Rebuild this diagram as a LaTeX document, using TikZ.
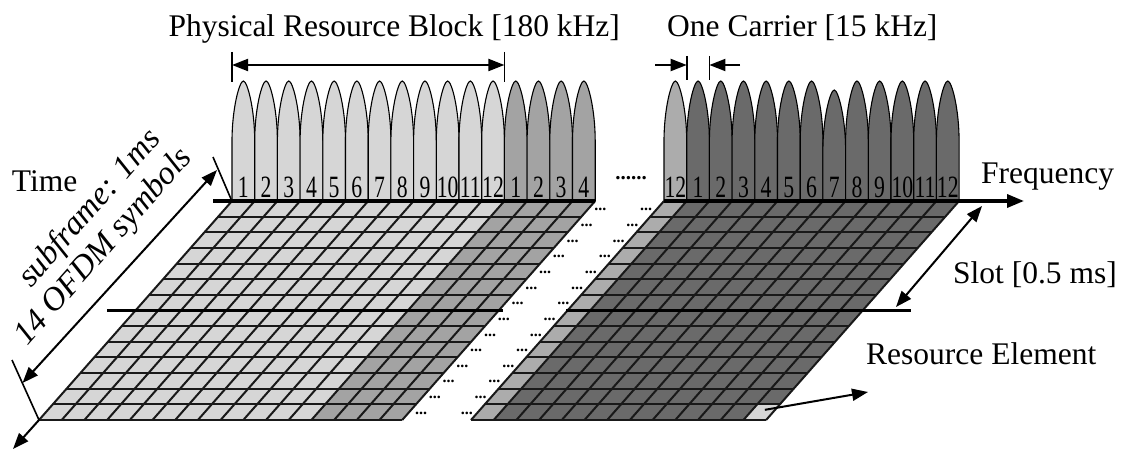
\documentclass[tikz,border=0pt]{standalone}
\usepackage{fontspec}
\setmainfont{Liberation Serif}
\usepackage{graphicx}
\usetikzlibrary{arrows.meta,positioning,calc}
\definecolor{cellgray}{RGB}{214,214,214}
\definecolor{blockgray}{RGB}{163,163,163}
\definecolor{edgegray}{RGB}{172,172,172}
\definecolor{carriergray}{RGB}{106,106,106}
\newcommand{\subnum}[1]{\scalebox{0.7}[1]{#1}}
\tikzset{
    lbl/.style={font=\fontsize{31.5}{36}\selectfont, inner sep=0pt, anchor=base west},
    slant/.style={font=\fontsize{33}{36}\selectfont\itshape, inner sep=0pt,
                  anchor=base west, rotate=48.6},
    num/.style={font=\fontsize{31}{31}\selectfont, inner sep=0pt, anchor=base},
    dots/.style={font=\fontsize{16}{16}\selectfont\bfseries, inner sep=0pt},
    arr/.style={-{Triangle[length=16pt,width=12pt]}, line width=2pt},
    dimarr/.style={{Triangle[length=16pt,width=12pt]}-{Triangle[length=16pt,width=12pt]},
                   line width=2pt},
    bar/.style={line width=3.4pt},
    tickln/.style={line width=1.6pt},
    gline/.style={line width=2pt, draw=black!90},
    peak/.style={draw=black, line width=1.1pt, fill=#1},
}

\begin{document}
\begin{tikzpicture}[x=1pt, y=-1pt]
    \fill[white] (0,0) rectangle (1126,449);
    \useasboundingbox (0,0) rectangle (1126,449);

    % subcarrier peaks
    \foreach \i in {0,...,15} {
        \pgfmathsetmacro{\xa}{232+\i*22.7}
        \pgfmathsetmacro{\xb}{\xa+22.7}
        \pgfmathsetmacro{\xc}{\xa+11.35}
        \pgfmathtruncatemacro{\lab}{mod(\i,12)+1}
        \ifnum\i<12 \def\pc{cellgray}\else\def\pc{blockgray}\fi
        \draw[peak=\pc] (\xa,201) -- (\xa,141) .. controls (\xa,109) and (\xc-4,81) .. (\xc,81)
            .. controls (\xc+4,81) and (\xb,109) .. (\xb,141) -- (\xb,201);
        \node[num] (pl\i) at (\xc,197) {\subnum{\lab}};
    }
    \foreach \i in {0,...,12} {
        \pgfmathsetmacro{\xa}{664+\i*22.7}
        \pgfmathsetmacro{\xb}{\xa+22.7}
        \pgfmathsetmacro{\xc}{\xa+11.35}
        \ifnum\i=0 \def\pc{edgegray}\def\lab{12}\else\def\pc{carriergray}\def\lab{\i}\fi
        \ifnum\i=7 \def\pt{90}\else\def\pt{81}\fi
        \draw[peak=\pc] (\xa,201) -- (\xa,\pt+60) .. controls (\xa,\pt+28) and (\xc-4,\pt) .. (\xc,\pt)
            .. controls (\xc+4,\pt) and (\xb,\pt+28) .. (\xb,\pt+60) -- (\xb,201);
        \node[num] (pr\i) at (\xc,197) {\subnum{\lab}};
    }
    \node[font=\fontsize{21}{21}\selectfont\bfseries, inner sep=0pt, anchor=base] (gap) at (631,179) {......};

    % resource grids
    \begin{scope}[shift={(232,201)}, x={(22.7pt,0pt)}, y={(-13.786pt,-15.643pt)}]
        \fill[cellgray]  (0,0) -- (12,0) -- (12,14) -- (0,14) -- cycle;
        \fill[blockgray] (12,0) -- (16,0) -- (16,14) -- (12,14) -- cycle;
        \foreach \r in {0,...,14} \draw[gline] (0,\r) -- (16,\r);
        \foreach \c in {0,...,16} \draw[gline] (\c,0) -- (\c,14);
    \end{scope}
    \begin{scope}[shift={(664,201)}, x={(22.7pt,0pt)}, y={(-13.786pt,-15.643pt)}]
        \fill[edgegray]    (0,0) -- (1,0) -- (1,14) -- (0,14) -- cycle;
        \fill[carriergray] (1,0) -- (13,0) -- (13,14) -- (1,14) -- cycle;
        \fill[cellgray]    (12,13) -- (13,13) -- (13,14) -- (12,14) -- cycle;
        \foreach \r in {0,...,14} \draw[gline] (0,\r) -- (13,\r);
        \foreach \c in {0,...,13} \draw[gline] (\c,0) -- (\c,14);
        \coordinate (reCell) at (12.55,13.35);
    \end{scope}
    \foreach \r in {0,...,13} {
        \pgfmathsetmacro{\yc}{201+(\r+0.5)*15.643+1}
        \pgfmathsetmacro{\sh}{(\r+0.5)*13.786}
        \node[dots] (dl\r) at (607.2-\sh,\yc) {...};
        \node[dots] (dr\r) at (653-\sh,\yc) {...};
    }

    % axes and bars
    \coordinate (topL) at (213,201);
    \coordinate (topR) at (595.2,201);
    \coordinate (freqS) at (664,201);
    \coordinate (freqE) at (1024,201);
    \draw[bar] (topL) -- (topR);
    \draw[bar, -{Triangle[length=17pt,width=13pt]}] (freqS) -- (freqE);
    \coordinate (midL) at (107,310.5);
    \coordinate (midM) at (503,310.5);
    \coordinate (midN) at (566,310.5);
    \coordinate (midR) at (911,310.5);
    \draw[bar] (midL) -- (midM);
    \draw[bar] (midN) -- (midR);

    % block and carrier spacing
    \coordinate (prbL) at (232,65);
    \coordinate (prbR) at (504.4,65);
    \draw[tickln] (232,52) -- (232,82);
    \draw[tickln] (504.4,52) -- (504.4,82);
    \draw[dimarr] (prbL) -- (prbR);
    \coordinate (carL) at (686.7,65);
    \coordinate (carR) at (709.4,65);
    \draw[tickln] (686.7,56) -- (686.7,80);
    \draw[tickln] (709.4,56) -- (709.4,80);
    \draw[arr] (655,65) -- (carL);
    \draw[arr] (740,65) -- (carR);

    % time axis and subframe length
    \coordinate (gridBL) at (39,420);
    \coordinate (timeE) at (13,449);
    \draw[arr] (gridBL) -- (timeE);
    \draw[tickln] (213,157) -- (231,199);
    \draw[tickln] (12,360) -- (gridBL);
    \coordinate (subT) at (217,170);
    \coordinate (subB) at (22.5,383);
    \draw[dimarr] (subB) -- (subT);

    % slot and resource element
    \coordinate (slotT) at (982,206);
    \coordinate (slotB) at (896,307);
    \draw[dimarr] (slotB) -- (slotT);
    \coordinate (reTip) at (868,392);
    \draw[arr] (reCell) -- (reTip);

    \node[lbl] (prb)  at (168.3,36.7) {Physical Resource Block [180 kHz]};
    \node[lbl] (car)  at (667,36.7)   {One Carrier [15 kHz]};
    \node[lbl] (time) at (11.7,191.7) {Time};
    \node[lbl] (freq) at (981,183)    {Frequency};
    \node[lbl] (slot) at (953,283.3)  {Slot [0.5 ms]};
    \node[lbl] (re)   at (866,364)    {Resource Element};
    \node[slant] (sub)  at (31,289) {subframe: 1ms};
    \node[slant] (ofdm) at (27,347) {14 OFDM symbols};
\end{tikzpicture}
\end{document}
